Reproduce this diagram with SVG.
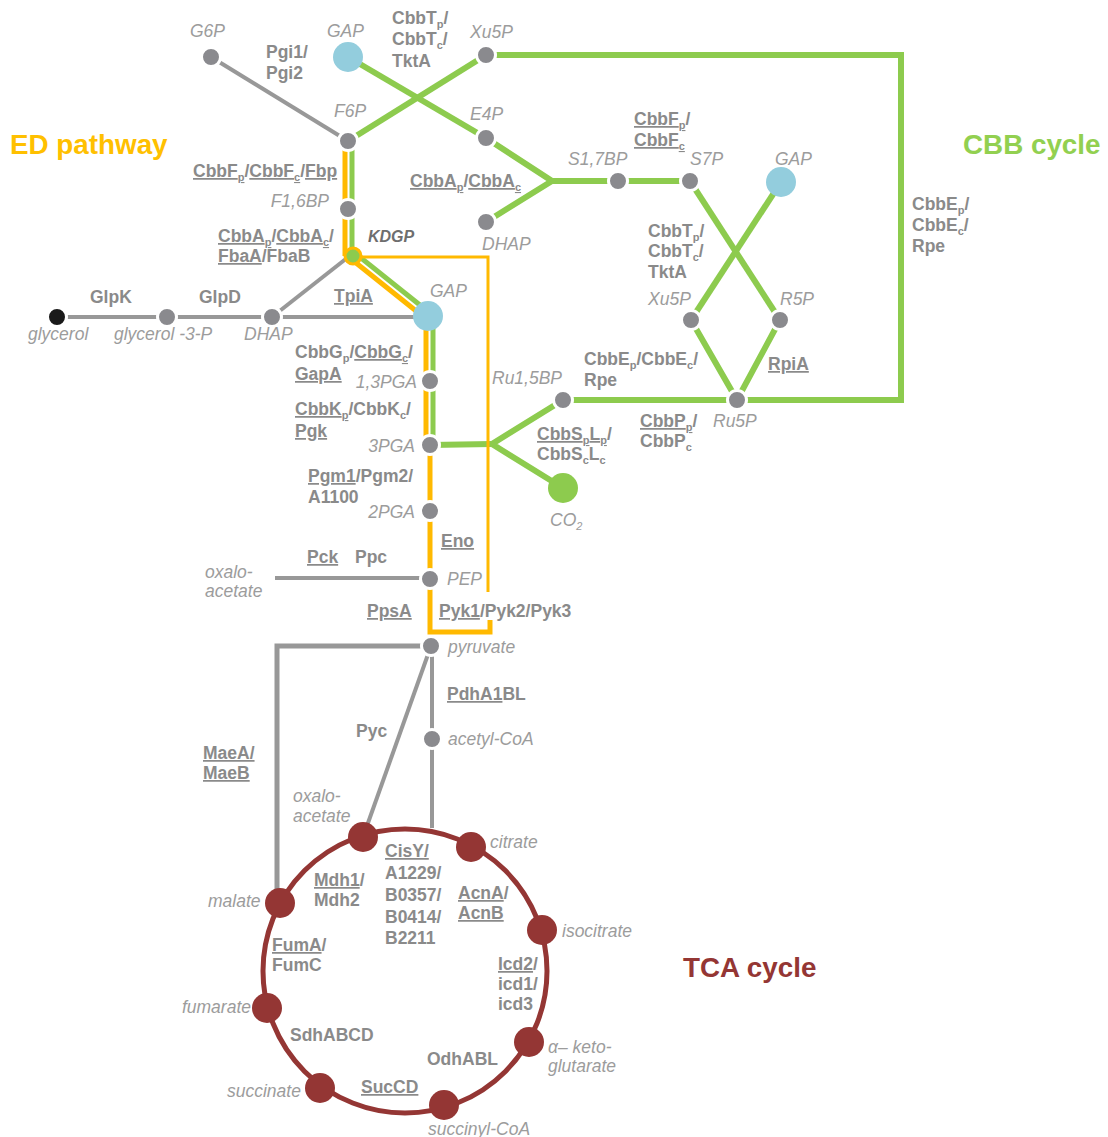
<svg xmlns="http://www.w3.org/2000/svg" width="1108" height="1137" viewBox="0 0 1108 1137">
<style>
.m{font-family:'Liberation Sans',Arial,sans-serif;font-style:italic;font-size:17.5px;fill:#9c9c9c}
.e{font-family:'Liberation Sans',Arial,sans-serif;font-weight:bold;font-size:17.5px;fill:#8a8a8a}
.u{text-decoration:underline}
.s{font-size:11px}
.t{font-family:'Liberation Sans',Arial,sans-serif;font-weight:bold;font-size:27.8px}
.gr{fill:none;stroke:#989898;stroke-width:4}
.gn{fill:none;stroke:#8DCB4E;stroke-width:6;stroke-linejoin:miter}
.or{fill:none;stroke:#FFB900;stroke-width:5}
.nd{fill:#8a8a8e;stroke:#fff;stroke-width:3}
.bl{fill:#93CDDD}
.tc{fill:#943634}
</style>
<rect width="1108" height="1137" fill="#fff"/>
<g id="connectors">
<path class="gr" d="M211,57 L348,141"/>
<path class="gr" d="M57,317 L428,317"/>
<path class="gr" d="M272,317 L347,258"/>
<path class="gr" d="M275,578 L430,578"/>
<path class="gr" style="stroke-width:5" d="M431,646 L277,646 L277,896"/>
<path class="gr" d="M431,646 L363,837"/>
<path class="gr" d="M432,646 L432,828"/>
<path class="gn" d="M348,57 L486,138"/>
<path class="gn" d="M486,55 L348,141"/>
<path class="gn" d="M486,55 L901,55 L901,400 L737,400"/>
<path class="gn" d="M486,138 L552,181 L486,222"/>
<path class="gn" d="M552,181 L690,181"/>
<path class="gn" d="M690,181 L780,320"/>
<path class="gn" d="M781,182 L691,320"/>
<path class="gn" d="M691,320 L737,400 L780,320"/>
<path class="gn" d="M737,400 L563,400"/>
<path class="gn" d="M563,400 L492,444 L563,488"/>
<path class="gn" d="M492,444 L430,445"/>
<path class="gn" style="stroke-width:5" d="M352,141 L352,256"/>
<path class="gn" style="stroke-width:5" d="M355.2,253.3 L430.2,313.3"/>
<path class="gn" style="stroke-width:5" d="M433,316 L433,445"/>
<path class="or" d="M345,148 L345,256"/>
<path class="or" d="M350.8,258.7 L425.8,318.7"/>
<path class="or" d="M426,316 L426,445"/>
<path class="or" d="M430,445 L430,632 L490,632 L490,620"/>
<path class="or" style="stroke-width:3" d="M360,257 L488,257 L488,592"/>
<circle cx="405" cy="971" r="142" fill="none" stroke="#943634" stroke-width="5"/>
</g>
<g id="G6P"><circle class="nd" cx="211" cy="57" r="9.5"/><text class="m" x="190" y="37">G6P</text></g>
<g id="GAP1"><circle class="bl" cx="348" cy="57" r="15"/><text class="m" x="327" y="37">GAP</text></g>
<g id="Xu5P1"><circle class="nd" cx="486" cy="55" r="9.5"/><text class="m" x="470" y="38">Xu5P</text></g>
<g id="F6P"><circle class="nd" cx="348" cy="141" r="9.5"/><text class="m" x="334" y="117">F6P</text></g>
<g id="E4P"><circle class="nd" cx="486" cy="138" r="9.5"/><text class="m" x="470" y="120">E4P</text></g>
<g id="S17BP"><circle class="nd" cx="618" cy="181" r="9.5"/><text class="m" x="568" y="165">S1,7BP</text></g>
<g id="S7P"><circle class="nd" cx="690" cy="181" r="9.5"/><text class="m" x="690" y="165">S7P</text></g>
<g id="GAP2"><circle class="bl" cx="781" cy="182" r="15"/><text class="m" x="775" y="165">GAP</text></g>
<g id="DHAP2"><circle class="nd" cx="486" cy="222" r="9.5"/><text class="m" x="482" y="250">DHAP</text></g>
<g id="F16BP"><circle class="nd" cx="348" cy="209" r="9.5"/><text class="m" x="329" y="207" text-anchor="end">F1,6BP</text></g>
<g id="KDGP"><circle cx="353" cy="256" r="8" fill="#8DCB4E" stroke="#FFB900" stroke-width="3"/><text x="368" y="242" style="font-family:'Liberation Sans',Arial,sans-serif;font-weight:bold;font-style:italic;font-size:16px;fill:#6e6e6e">KDGP</text></g>
<g id="glycerol"><circle cx="57" cy="317" r="9.5" fill="#1a1a1a" stroke="#fff" stroke-width="3"/><text class="m" x="28" y="340">glycerol</text></g>
<g id="G3P"><circle class="nd" cx="167" cy="317" r="9.5"/><text class="m" x="114" y="340">glycerol -3-P</text></g>
<g id="DHAP1"><circle class="nd" cx="272" cy="317" r="9.5"/><text class="m" x="244" y="340">DHAP</text></g>
<g id="GAP3"><circle class="bl" cx="428" cy="316" r="15"/><text class="m" x="430" y="297">GAP</text></g>
<g id="Xu5P2"><circle class="nd" cx="691" cy="320" r="9.5"/><text class="m" x="648" y="305">Xu5P</text></g>
<g id="R5P"><circle class="nd" cx="780" cy="320" r="9.5"/><text class="m" x="780" y="305">R5P</text></g>
<g id="PGA13"><circle class="nd" cx="430" cy="381" r="9.5"/><text class="m" x="417" y="388" text-anchor="end">1,3PGA</text></g>
<g id="Ru15BP"><circle class="nd" cx="563" cy="400" r="9.5"/><text class="m" x="492" y="384">Ru1,5BP</text></g>
<g id="Ru5P"><circle class="nd" cx="737" cy="400" r="9.5"/><text class="m" x="713" y="427">Ru5P</text></g>
<g id="PGA3"><circle class="nd" cx="430" cy="445" r="9.5"/><text class="m" x="415" y="452" text-anchor="end">3PGA</text></g>
<g id="CO2"><circle cx="563" cy="488" r="15" fill="#8DCB4E"/><text class="m" x="550" y="526">CO<tspan class="s" dy="4">2</tspan></text></g>
<g id="PGA2"><circle class="nd" cx="430" cy="511" r="9.5"/><text class="m" x="415" y="518" text-anchor="end">2PGA</text></g>
<g id="OAA1"><text class="m" x="205" y="578">oxalo-</text><text class="m" x="205" y="597">acetate</text></g>
<g id="PEP"><circle class="nd" cx="430" cy="579" r="9.5"/><text class="m" x="447" y="585">PEP</text></g>
<g id="pyruvate"><circle class="nd" cx="431" cy="646" r="9.5"/><text class="m" x="448" y="653">pyruvate</text></g>
<g id="acetylCoA"><circle class="nd" cx="432" cy="739" r="9.5"/><text class="m" x="448" y="745">acetyl-CoA</text></g>
<g id="oxaloacetate"><circle class="tc" cx="363" cy="837" r="15"/><text class="m" x="293" y="802">oxalo-</text><text class="m" x="293" y="822">acetate</text></g>
<g id="citrate"><circle class="tc" cx="471" cy="847" r="15"/><text class="m" x="490" y="848">citrate</text></g>
<g id="isocitrate"><circle class="tc" cx="542" cy="930" r="15"/><text class="m" x="562" y="937">isocitrate</text></g>
<g id="akg"><circle class="tc" cx="529" cy="1042" r="15"/><text class="m" x="548" y="1053">α– keto-</text><text class="m" x="548" y="1072">glutarate</text></g>
<g id="succinylCoA"><circle class="tc" cx="444" cy="1105" r="15"/><text class="m" x="428" y="1135">succinyl-CoA</text></g>
<g id="succinate"><circle class="tc" cx="320" cy="1088" r="15"/><text class="m" x="227" y="1097">succinate</text></g>
<g id="fumarate"><circle class="tc" cx="267" cy="1008" r="15"/><text class="m" x="251" y="1013" text-anchor="end">fumarate</text></g>
<g id="malate"><circle class="tc" cx="280" cy="903" r="15"/><text class="m" x="208" y="907">malate</text></g>
<g id="titles">
<text class="t" x="10" y="154" fill="#FFC000">ED pathway</text>
<text class="t" x="963" y="154" fill="#92D050">CBB cycle</text>
<text class="t" x="683" y="977" fill="#943634">TCA cycle</text>
</g>
<g id="enzymes">
<text class="e" x="266" y="58">Pgi1/</text><text class="e" x="266" y="79">Pgi2</text>
<text class="e" x="392" y="24">CbbT<tspan class="s" dy="4">p</tspan><tspan dy="-4">/</tspan></text>
<text class="e" x="392" y="45">CbbT<tspan class="s" dy="4">c</tspan><tspan dy="-4">/</tspan></text>
<text class="e" x="392" y="67">TktA</text>
<text class="e" x="634" y="125"><tspan class="u">CbbF<tspan class="s" dy="4">p</tspan></tspan><tspan dy="-4">/</tspan></text>
<text class="e" x="634" y="146"><tspan class="u">CbbF<tspan class="s" dy="4">c</tspan></tspan></text>
<text class="e" x="193" y="177"><tspan class="u">CbbF<tspan class="s" dy="4">p</tspan></tspan><tspan dy="-4">/</tspan><tspan class="u">CbbF<tspan class="s" dy="4">c</tspan></tspan><tspan dy="-4">/</tspan><tspan class="u">Fbp</tspan></text>
<text class="e" x="410" y="187"><tspan class="u">CbbA<tspan class="s" dy="4">p</tspan></tspan><tspan dy="-4">/</tspan><tspan class="u">CbbA<tspan class="s" dy="4">c</tspan></tspan></text>
<text class="e" x="218" y="242"><tspan class="u">CbbA<tspan class="s" dy="4">p</tspan></tspan><tspan dy="-4">/</tspan><tspan class="u">CbbA<tspan class="s" dy="4">c</tspan></tspan><tspan dy="-4">/</tspan></text>
<text class="e" x="218" y="262"><tspan class="u">FbaA</tspan>/FbaB</text>
<text class="e" x="648" y="237">CbbT<tspan class="s" dy="4">p</tspan><tspan dy="-4">/</tspan></text>
<text class="e" x="648" y="257">CbbT<tspan class="s" dy="4">c</tspan><tspan dy="-4">/</tspan></text>
<text class="e" x="648" y="278">TktA</text>
<text class="e" x="912" y="210">CbbE<tspan class="s" dy="4">p</tspan><tspan dy="-4">/</tspan></text>
<text class="e" x="912" y="231">CbbE<tspan class="s" dy="4">c</tspan><tspan dy="-4">/</tspan></text>
<text class="e" x="912" y="252">Rpe</text>
<text class="e" x="90" y="303">GlpK</text>
<text class="e" x="199" y="303">GlpD</text>
<text class="e" x="334" y="302"><tspan class="u">TpiA</tspan></text>
<text class="e" x="295" y="358">CbbG<tspan class="s" dy="4">p</tspan><tspan dy="-4">/</tspan><tspan class="u">CbbG<tspan class="s" dy="4">c</tspan></tspan><tspan dy="-4">/</tspan></text>
<text class="e" x="295" y="380"><tspan class="u">GapA</tspan></text>
<text class="e" x="584" y="365">CbbE<tspan class="s" dy="4">p</tspan><tspan dy="-4">/CbbE</tspan><tspan class="s" dy="4">c</tspan><tspan dy="-4">/</tspan></text>
<text class="e" x="584" y="386">Rpe</text>
<text class="e" x="768" y="370"><tspan class="u">RpiA</tspan></text>
<text class="e" x="295" y="415"><tspan class="u">CbbK<tspan class="s" dy="4">p</tspan></tspan><tspan dy="-4">/CbbK</tspan><tspan class="s" dy="4">c</tspan><tspan dy="-4">/</tspan></text>
<text class="e" x="295" y="437"><tspan class="u">Pgk</tspan></text>
<text class="e" x="640" y="427"><tspan class="u">CbbP<tspan class="s" dy="4">p</tspan></tspan><tspan dy="-4">/</tspan></text>
<text class="e" x="640" y="447">CbbP<tspan class="s" dy="4">c</tspan></text>
<text class="e" x="537" y="440"><tspan class="u">CbbS<tspan class="s" dy="4">p</tspan><tspan dy="-4">L</tspan><tspan class="s" dy="4">p</tspan></tspan><tspan dy="-4">/</tspan></text>
<text class="e" x="537" y="460">CbbS<tspan class="s" dy="4">c</tspan><tspan dy="-4">L</tspan><tspan class="s" dy="4">c</tspan></text>
<text class="e" x="308" y="482"><tspan class="u">Pgm1</tspan>/Pgm2/</text>
<text class="e" x="308" y="503">A1100</text>
<text class="e" x="441" y="547"><tspan class="u">Eno</tspan></text>
<text class="e" x="307" y="563"><tspan class="u">Pck</tspan></text>
<text class="e" x="355" y="563">Ppc</text>
<text class="e" x="367" y="617"><tspan class="u">PpsA</tspan></text>
<text class="e" x="439" y="617"><tspan class="u">Pyk1</tspan>/Pyk2/Pyk3</text>
<text class="e" x="447" y="700"><tspan class="u">PdhA1</tspan>BL</text>
<text class="e" x="356" y="737">Pyc</text>
<text class="e" x="203" y="759"><tspan class="u">MaeA/</tspan></text>
<text class="e" x="203" y="779"><tspan class="u">MaeB</tspan></text>
<text class="e" x="385" y="857"><tspan class="u">CisY/</tspan></text>
<text class="e" x="385" y="879">A1229/</text>
<text class="e" x="385" y="901">B0357/</text>
<text class="e" x="385" y="923">B0414/</text>
<text class="e" x="385" y="944">B2211</text>
<text class="e" x="314" y="886"><tspan class="u">Mdh1</tspan>/</text>
<text class="e" x="314" y="906">Mdh2</text>
<text class="e" x="458" y="899"><tspan class="u">AcnA</tspan>/</text>
<text class="e" x="458" y="919"><tspan class="u">AcnB</tspan></text>
<text class="e" x="272" y="951"><tspan class="u">FumA</tspan>/</text>
<text class="e" x="272" y="971">FumC</text>
<text class="e" x="498" y="970"><tspan class="u">Icd2</tspan>/</text>
<text class="e" x="498" y="990">icd1/</text>
<text class="e" x="498" y="1010">icd3</text>
<text class="e" x="290" y="1041">SdhABCD</text>
<text class="e" x="427" y="1065">OdhABL</text>
<text class="e" x="361" y="1093"><tspan class="u">SucCD</tspan></text>
</g>
</svg>
